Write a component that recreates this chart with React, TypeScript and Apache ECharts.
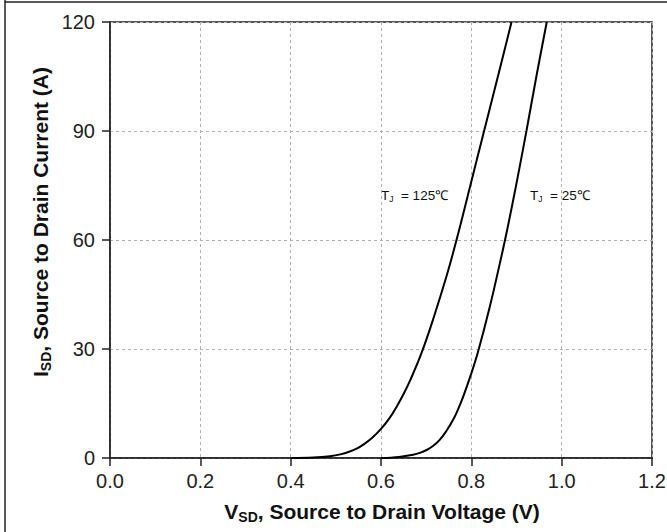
import React, { useEffect, useRef } from "react";
import * as echarts from "echarts";

// T_J = 125°C curve (V_SD in V, I_SD in A)
const vsd125 = [0.4, 0.45, 0.487, 0.51, 0.531, 0.546, 0.561, 0.58, 0.6, 0.62, 0.635, 0.65, 0.664, 0.69, 0.716, 0.745, 0.767, 0.801, 0.826, 0.856, 0.889];
const isd125 = [0, 0.15, 0.5, 1.0, 1.8, 2.6, 3.7, 5.5, 8.0, 11.2, 14.2, 17.6, 21.2, 29.0, 38.4, 50, 59.9, 76.6, 88.9, 103.6, 120];

// T_J = 25°C curve
const vsd25 = [0.6, 0.64, 0.671, 0.686, 0.701, 0.715, 0.73, 0.745, 0.76, 0.771, 0.782, 0.8, 0.815, 0.841, 0.863, 0.878, 0.9, 0.922, 0.944, 0.967];
const isd25 = [0, 0.3, 0.9, 1.4, 2.2, 3.3, 5, 7.5, 10.6, 13.5, 16.9, 23.3, 29.3, 41.7, 53.5, 62, 75.6, 90, 105, 120];

const xTicks = { min: 0, max: 1.2, interval: 0.2 };
const yTicks = { min: 0, max: 120, interval: 30 };

const labels = [
  { v: 0.6, i: 72.3, text: "125℃" },
  { v: 0.93, i: 72.3, text: "25℃" },
];

const FONT = "Arial, 'Liberation Sans', sans-serif";

function zip(xs: number[], ys: number[]) {
  return xs.map((x, k) => [x, ys[k]]);
}

export default function App() {
  const ref = useRef<HTMLDivElement>(null);
  useEffect(() => {
    document.body.style.margin = "0";
    const chart = echarts.init(ref.current!, null, { renderer: "svg" });
    const axisCommon = {
      axisLine: { show: true, lineStyle: { color: "#222", width: 1.5 } },
      axisTick: { show: true, inside: false, length: 8, lineStyle: { color: "#222", width: 1.5 } },
      splitLine: { show: true, lineStyle: { color: "#b0b0b0", type: [3, 3], width: 1 } },
    };
    const titleRich = {
      v: { fontSize: 21, fontWeight: "bold", fontFamily: FONT, lineHeight: 26, fill: "#111" },
      s: { fontSize: 14, fontWeight: "bold", fontFamily: FONT, lineHeight: 14, verticalAlign: "bottom", fill: "#111" },
    };
    chart.setOption({
      animation: false,
      backgroundColor: "#fff",
      grid: {
        left: 110,
        top: 22,
        right: 15,
        bottom: 74,
        show: true,
        borderColor: "#222",
        borderWidth: 1.5,
        containLabel: false,
        outerBoundsMode: "none",
      },
      xAxis: {
        type: "value",
        ...xTicks,
        ...axisCommon,
        axisLabel: {
          fontSize: 20,
          color: "#222",
          fontFamily: FONT,
          margin: 13,
          formatter: (v: number) => v.toFixed(1),
        },
      },
      yAxis: {
        type: "value",
        ...yTicks,
        ...axisCommon,
        axisLabel: { fontSize: 20, color: "#222", fontFamily: FONT, margin: 15 },
      },
      series: [
        {
          type: "line",
          data: zip(vsd125, isd125),
          smooth: 0.4,
          showSymbol: false,
          lineStyle: { color: "#000", width: 2 },
        },
        {
          type: "line",
          data: zip(vsd25, isd25),
          smooth: 0.4,
          showSymbol: false,
          lineStyle: { color: "#000", width: 2 },
        },
      ],
      graphic: [
        { id: "bl", type: "line", shape: { x1: 5, y1: 0, x2: 5, y2: 532 }, style: { stroke: "#222", lineWidth: 1.5 } },
        { id: "bt", type: "line", shape: { x1: 5, y1: 2, x2: 667, y2: 2 }, style: { stroke: "#222", lineWidth: 1.5 } },
        {
          id: "xt",
          type: "text",
          x: 382,
          y: 511,
          style: {
            text: "{v|V}{s|SD}{v|, Source to Drain Voltage (V)}",
            align: "center",
            verticalAlign: "middle",
            fill: "#111",
            rich: titleRich,
          },
        },
        {
          id: "yt",
          type: "text",
          x: 40,
          y: 222,
          rotation: Math.PI / 2,
          style: {
            text: "{v|I}{s|SD}{v|, Source to Drain Current (A)}",
            align: "center",
            verticalAlign: "middle",
            fill: "#111",
            rich: titleRich,
          },
        },
      ],
    });
    // temperature labels positioned via the axes' scale
    const g: any[] = labels.map((l, k) => {
      const [px, py] = chart.convertToPixel({ gridIndex: 0 }, [l.v, l.i]) as number[];
      return {
        id: "lab" + k,
        type: "text",
        x: px,
        y: py,
        style: {
          text: "{a|T}{b|J}{a|  = " + l.text + "}",
          align: "left",
          verticalAlign: "middle",
          fill: "#111",
          rich: {
            a: { fontSize: 13.5, fontFamily: FONT, lineHeight: 17, fill: "#111" },
            b: { fontSize: 8.5, fontFamily: FONT, lineHeight: 9, verticalAlign: "bottom", fill: "#111" },
          },
        },
      };
    });
    chart.setOption({ graphic: g });
    return () => chart.dispose();
  }, []);
  return <div ref={ref} style={{ position: "absolute", left: 0, top: 0, width: 667, height: 532 }} />;
}
